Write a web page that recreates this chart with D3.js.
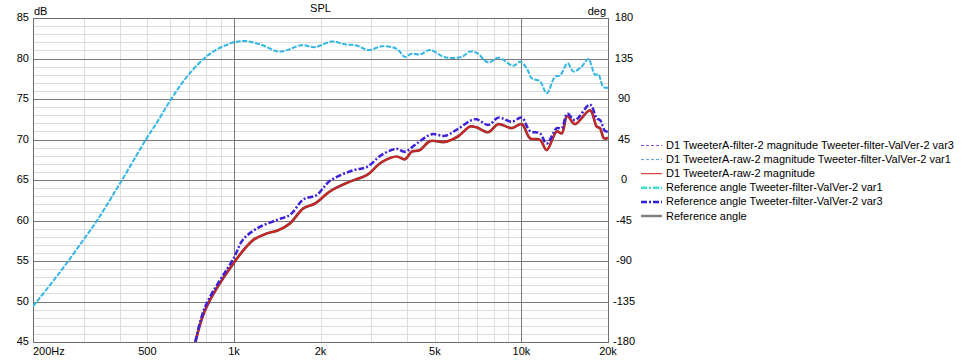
<!DOCTYPE html>
<html>
<head>
<meta charset="utf-8">
<script src="https://cdn.jsdelivr.net/npm/d3@7"></script>
<style>
  html, body { margin: 0; padding: 0; background: #fff; }
  svg { display: block; font-family: "Liberation Sans", Arial, sans-serif; }
</style>
</head>
<body>
<svg id="chart" width="971" height="360"></svg>
<script>
// ---------- DATA ----------
const var1Freq = [200, 248, 298, 334, 408, 494, 544, 600, 649, 703, 787, 859, 931, 1000, 1093, 1232, 1446, 1721, 1914, 2188, 2434, 2672, 2934, 3266, 3682, 3934, 4152, 4438, 4808, 5420, 6196, 6622, 6988, 7670, 8308, 9368, 9884, 10430, 10856, 11600, 12244, 13084, 13616, 14480, 15144, 16200, 17082, 18024, 18504, 19262, 20000];
const var1Db   = [49.4, 53.6, 57.5, 60.0, 65.0, 70.0, 72.3, 74.8, 76.6, 78.2, 80.0, 81.0, 81.6, 82.0, 82.15, 81.75, 80.85, 81.65, 81.4, 82.1, 81.75, 81.6, 81.05, 81.5, 81.2, 80.2, 80.6, 80.5, 81.05, 80.15, 80.2, 80.85, 80.7, 79.5, 80.1, 79.1, 79.6, 78.8, 77.55, 77.2, 75.7, 77.75, 77.9, 79.4, 78.4, 79.0, 79.95, 78.0, 78.05, 76.5, 76.4];

const var3Freq = [720, 793, 1000, 1073, 1200, 1409, 1567, 1743, 1940, 2158, 2600, 2896, 3266, 3682, 3934, 4322, 4874, 5420, 5952, 6714, 6988, 7670, 8308, 9248, 10020, 10710, 11600, 12244, 13264, 13804, 14434, 15352, 17316, 18270, 18760, 19526, 20000];
const var3Db   = [43.6, 49.3, 55.4, 57.6, 59.0, 60.06, 60.7, 62.6, 63.15, 64.9, 66.2, 66.6, 68.1, 68.85, 68.5, 69.5, 70.65, 70.45, 71.2, 72.4, 72.5, 71.8, 72.7, 72.2, 72.7, 71.05, 70.75, 69.5, 71.4, 71.4, 73.2, 72.4, 74.3, 72.6, 72.4, 71.05, 71.0];

const rawFreq = [720, 793, 1000, 1168, 1300, 1427, 1567, 1743, 1914, 2158, 2532, 2896, 3266, 3682, 3934, 4152, 4438, 4808, 5420, 6030, 6622, 6988, 7670, 8308, 9248, 10020, 10710, 11600, 12244, 13264, 13804, 14434, 15352, 17316, 18270, 18760, 19370, 20000];
const rawDb   = [43.5, 48.9, 54.8, 57.6, 58.4, 58.8, 59.65, 61.5, 62.1, 63.6, 64.8, 65.6, 67.2, 67.9, 67.55, 68.5, 68.7, 69.8, 69.7, 70.4, 71.6, 71.5, 70.9, 71.9, 71.4, 71.9, 70.15, 69.95, 68.7, 71.0, 70.75, 72.9, 71.9, 73.6, 71.6, 71.4, 70.15, 70.2];

const xMajorTicks = [1000, 10000];
const xMinorTicks = [300, 400, 500, 600, 700, 800, 900, 2000, 3000, 4000, 5000, 6000, 7000, 8000, 9000];
const xLabelValues = [200, 500, 1000, 2000, 5000, 10000, 20000];
const xLabelTexts  = ["200Hz", "500", "1k", "2k", "5k", "10k", "20k"];
const yLeftTicks  = [45, 50, 55, 60, 65, 70, 75, 80, 85];
const yRightTicks = [-180, -135, -90, -45, 0, 45, 90, 135, 180];

const legendLabels = [
  "D1 TweeterA-filter-2 magnitude Tweeter-filter-ValVer-2 var3",
  "D1 TweeterA-raw-2 magnitude Tweeter-filter-ValVer-2 var1",
  "D1 TweeterA-raw-2 magnitude",
  "Reference angle Tweeter-filter-ValVer-2 var1",
  "Reference angle Tweeter-filter-ValVer-2 var3",
  "Reference angle"
];

// ---------- LAYOUT ----------
const svg = d3.select("#chart");
const L = 33, R = 608, T = 18, B = 342;
const x = d3.scaleLog().domain([200, 20000]).range([L, R]);
const y = d3.scaleLinear().domain([45, 85]).range([B, T]);
const yR = d3.scaleLinear().domain([-180, 180]).range([B, T]);

const FS = 11;

// grid minor
const grid = svg.append("g").attr("shape-rendering", "crispEdges");
grid.selectAll("line.vmin").data(xMinorTicks).join("line")
  .attr("x1", d => Math.round(x(d)) + 0.5).attr("x2", d => Math.round(x(d)) + 0.5)
  .attr("y1", T).attr("y2", B).attr("stroke", "#dcdcdc");
grid.selectAll("line.hmin").data(d3.range(46, 85).filter(v => v % 5 !== 0)).join("line")
  .attr("x1", L).attr("x2", R)
  .attr("y1", d => Math.round(y(d)) + 0.5).attr("y2", d => Math.round(y(d)) + 0.5)
  .attr("stroke", "#dcdcdc");
// grid major
grid.selectAll("line.vmaj").data(xMajorTicks).join("line")
  .attr("x1", d => Math.round(x(d)) + 0.5).attr("x2", d => Math.round(x(d)) + 0.5)
  .attr("y1", T).attr("y2", B).attr("stroke", "#7a7a7a");
grid.selectAll("line.hmaj").data(yLeftTicks.filter(v => v > 45 && v < 85)).join("line")
  .attr("x1", L).attr("x2", R)
  .attr("y1", d => Math.round(y(d)) + 0.5).attr("y2", d => Math.round(y(d)) + 0.5)
  .attr("stroke", "#7a7a7a");
grid.append("rect").attr("x", L + 0.5).attr("y", T + 0.5).attr("width", R - L).attr("height", B - T)
  .attr("fill", "none").attr("stroke", "#6e6e6e");

// clip
svg.append("clipPath").attr("id", "plotClip").append("rect")
  .attr("x", L).attr("y", T).attr("width", R - L).attr("height", B - T);

const line = d3.line().x(d => x(d[0])).y(d => y(d[1])).curve(d3.curveCatmullRom.alpha(0.5));
const curves = svg.append("g").attr("clip-path", "url(#plotClip)");

const zip = (a, b) => a.map((v, i) => [v, b[i]]);

// raw magnitude (red over dark)
curves.append("path").datum(zip(rawFreq, rawDb)).attr("d", line)
  .attr("fill", "none").attr("stroke", "#7a3c3c").attr("stroke-width", 2.7);
curves.append("path").datum(zip(rawFreq, rawDb)).attr("d", line)
  .attr("fill", "none").attr("stroke", "#dc2020").attr("stroke-width", 1.5);

// var3 (blue dash-dot)
curves.append("path").datum(zip(var3Freq, var3Db)).attr("d", line)
  .attr("fill", "none").attr("stroke", "#3d22d8").attr("stroke-width", 2.5)
  .attr("stroke-dasharray", "6,2,2,2");

// var1 (cyan dashed)
curves.append("path").datum(zip(var1Freq, var1Db)).attr("d", line)
  .attr("fill", "none").attr("stroke", "#33b6e6").attr("stroke-width", 2)
  .attr("stroke-dasharray", "5,1.5");

// axes labels
const txt = svg.append("g").attr("font-size", FS).attr("fill", "#000");
txt.selectAll("text.yl").data(yLeftTicks).join("text")
  .attr("x", 29).attr("y", d => y(d) + 3).attr("text-anchor", "end").text(d => d);
txt.selectAll("text.yr").data(yRightTicks).join("text")
  .attr("x", 624).attr("y", d => yR(d) + 3).attr("text-anchor", "middle").text(d => d);
txt.selectAll("text.xl").data(xLabelValues).join("text")
  .attr("x", d => d === 200 ? L : x(d)).attr("y", 355)
  .attr("text-anchor", d => d === 200 ? "start" : "middle")
  .text((d, i) => xLabelTexts[i]);
txt.append("text").attr("x", 34).attr("y", 15).text("dB");
txt.append("text").attr("x", (L + R) / 2).attr("y", 12).attr("text-anchor", "middle").text("SPL");
txt.append("text").attr("x", 606).attr("y", 15).attr("text-anchor", "end").text("deg");

// legend
const legendStyles = [
  { color: "#8a4de0", width: 1, dash: "3,2" },
  { color: "#5b9be6", width: 1, dash: "3,2" },
  { color: "#d41a1a", width: 1, dash: null },
  { color: "#3fe0d0", width: 2.5, dash: "6,2,2,2" },
  { color: "#2a22d8", width: 2.5, dash: "6,2,2,2" },
  { color: "#808080", width: 2.5, dash: null }
];
const leg = svg.append("g");
const rows = leg.selectAll("g").data(legendLabels).join("g")
  .attr("transform", (d, i) => `translate(0, ${145 + i * 14.1})`);
rows.append("line").attr("x1", 641).attr("x2", 662).attr("y1", 0.5).attr("y2", 0.5)
  .attr("stroke", (d, i) => legendStyles[i].color)
  .attr("stroke-width", (d, i) => legendStyles[i].width)
  .attr("stroke-dasharray", (d, i) => legendStyles[i].dash);
rows.append("text").attr("x", 666).attr("y", 4).attr("font-size", FS).text(d => d);
</script>
</body>
</html>
